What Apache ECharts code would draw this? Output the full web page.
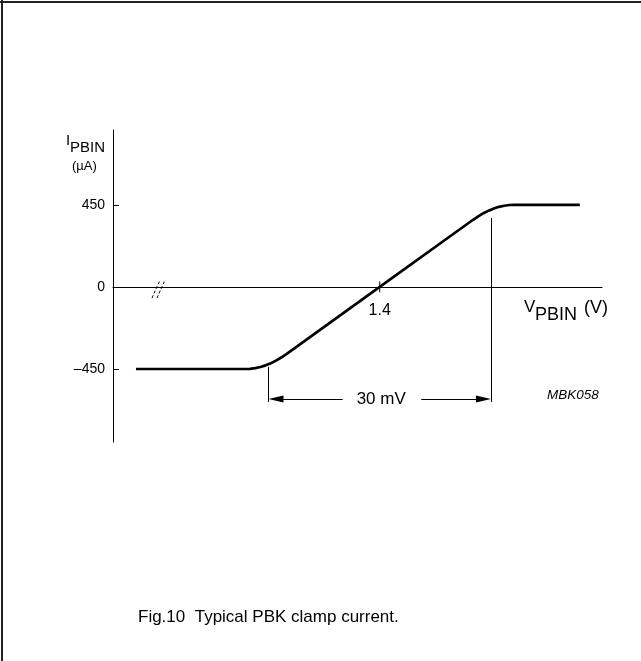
<!DOCTYPE html>
<html>
<head>
<meta charset="utf-8">
<script src="https://cdn.jsdelivr.net/npm/echarts@6/dist/echarts.min.js"></script>
<style>
  html, body { margin: 0; padding: 0; background: #fff; }
  #main { width: 641px; height: 661px; }
</style>
</head>
<body>
<div id="main"></div>
<script>
// clamp current: V_PBIN (V) against I_PBIN (uA)
var vPbin = [1.3671, 1.3818, 1.3825, 1.3832, 1.3839, 1.3846, 1.3853, 1.3860, 1.3867, 1.3874, 1.4000,
             1.4126, 1.4133, 1.4140, 1.4147, 1.4154, 1.4161, 1.4168, 1.4175, 1.4182, 1.4270];
var iPbin = [-450, -450, -449, -445, -439, -430, -418, -404, -387, -368, 0,
             368, 387, 404, 418, 430, 439, 445, 449, 450, 450];
var yTicks = [-450, 0, 450];
var xTicks = [1.4];
var spanV = [1.385, 1.415];      // the 30 mV window
var spanTop = [-438, 378];       // where the dimension lines start (uA)
var spanLevel = -614;            // level of the arrows (uA)

var font = 'Liberation Sans, Arial, sans-serif';
var curve = vPbin.map(function (v, i) { return [v, iPbin[i]]; });

var chart = echarts.init(document.getElementById('main'));
var option = {
  backgroundColor: '#fff',
  animation: false,
  grid: { left: 113, right: 39, top: 130, bottom: 219 },
  xAxis: {
    type: 'value',
    min: 1.364,
    max: 1.430,
    axisLine: { onZero: true, lineStyle: { color: '#000', width: 1 } },
    axisTick: { show: false },
    splitLine: { show: false },
    axisLabel: { show: false }
  },
  yAxis: {
    type: 'value',
    min: -850,
    max: 860,
    axisLine: { show: true, onZero: false, lineStyle: { color: '#000', width: 1 } },
    axisTick: { show: true, inside: true, length: 6, customValues: yTicks, lineStyle: { color: '#000' } },
    splitLine: { show: false },
    axisLabel: {
      customValues: yTicks,
      formatter: function (v) { return v < 0 ? '\u2013' + Math.abs(v) : '' + v; },
      margin: 8, color: '#000', fontSize: 14, fontFamily: font
    }
  },
  series: [
    {
      name: 'clamp',
      type: 'line',
      data: curve,
      showSymbol: false,
      lineStyle: { color: '#000', width: 2.7, join: 'round' }
    },
    {
      // tick through the axis at 1.4, plus the 30 mV dimension
      name: 'tick',
      type: 'line',
      data: [[xTicks[0], 30], [xTicks[0], -30]],
      showSymbol: false,
      lineStyle: { color: '#000', width: 1 },
      markLine: {
        silent: true,
        symbol: ['none', 'none'],
        lineStyle: { color: '#000', width: 1, type: 'solid' },
        label: { show: false },
        data: [
          [{ coord: [spanV[0], spanTop[0]] }, { coord: [spanV[0], -630] }],
          [{ coord: [spanV[1], spanTop[1]] }, { coord: [spanV[1], -630] }],
          [{ coord: [1.395, spanLevel], symbol: 'none' },
           { coord: [1.3860, spanLevel], symbol: 'triangle', symbolSize: [7, 15] }],
          [{ coord: [1.4056, spanLevel], symbol: 'none' },
           { coord: [1.4140, spanLevel], symbol: 'triangle', symbolSize: [7, 15] }]
        ]
      },
      markPoint: {
        silent: true,
        symbol: 'rect',
        symbolSize: 1,
        itemStyle: { color: 'transparent' },
        label: { show: true, position: 'inside', color: '#000', fontSize: 17, fontFamily: font },
        data: [
          { coord: [1.4002, spanLevel], value: '30 mV' },
          { coord: [xTicks[0], 0], value: xTicks[0].toFixed(1), label: { offset: [0, 24], fontSize: 16 } }
        ]
      }
    }
  ],
  graphic: [
    // frame
    { type: 'line', shape: { x1: 2, y1: 0, x2: 2, y2: 661 }, style: { stroke: '#222', lineWidth: 2 } },
    { type: 'line', shape: { x1: 0, y1: 2, x2: 641, y2: 2 }, style: { stroke: '#222', lineWidth: 2 } },
    // axis break
    { type: 'line', shape: { x1: 152, y1: 298, x2: 160, y2: 280 }, style: { stroke: '#000', lineWidth: 1, lineDash: [3, 2] } },
    { type: 'line', shape: { x1: 157, y1: 298, x2: 165, y2: 280 }, style: { stroke: '#000', lineWidth: 1, lineDash: [3, 2] } },
    // y axis name
    { type: 'text', left: 66, top: 133, style: { text: 'I', font: '15px ' + font, fill: '#000' } },
    { type: 'text', left: 70, top: 140, style: { text: 'PBIN', font: '15px ' + font, fill: '#000' } },
    { type: 'text', left: 72, top: 160, style: { text: '(\u00b5A)', font: '13px ' + font, fill: '#000' } },
    // x axis name
    { type: 'text', left: 524, top: 299, style: { text: 'V', font: '17px ' + font, fill: '#000' } },
    { type: 'text', left: 535, top: 306, style: { text: 'PBIN', font: '18px ' + font, fill: '#000' } },
    { type: 'text', left: 584, top: 299, style: { text: '(V)', font: '18px ' + font, fill: '#000' } },
    // figure code
    { type: 'text', left: 547, top: 388, style: { text: 'MBK058', font: 'italic 13.5px ' + font, fill: '#000' } },
    // caption
    { type: 'text', left: 138, top: 609, style: { text: 'Fig.10  Typical PBK clamp current.', font: '17px ' + font, fill: '#000' } }
  ]
};
chart.setOption(option);
</script>
</body>
</html>
